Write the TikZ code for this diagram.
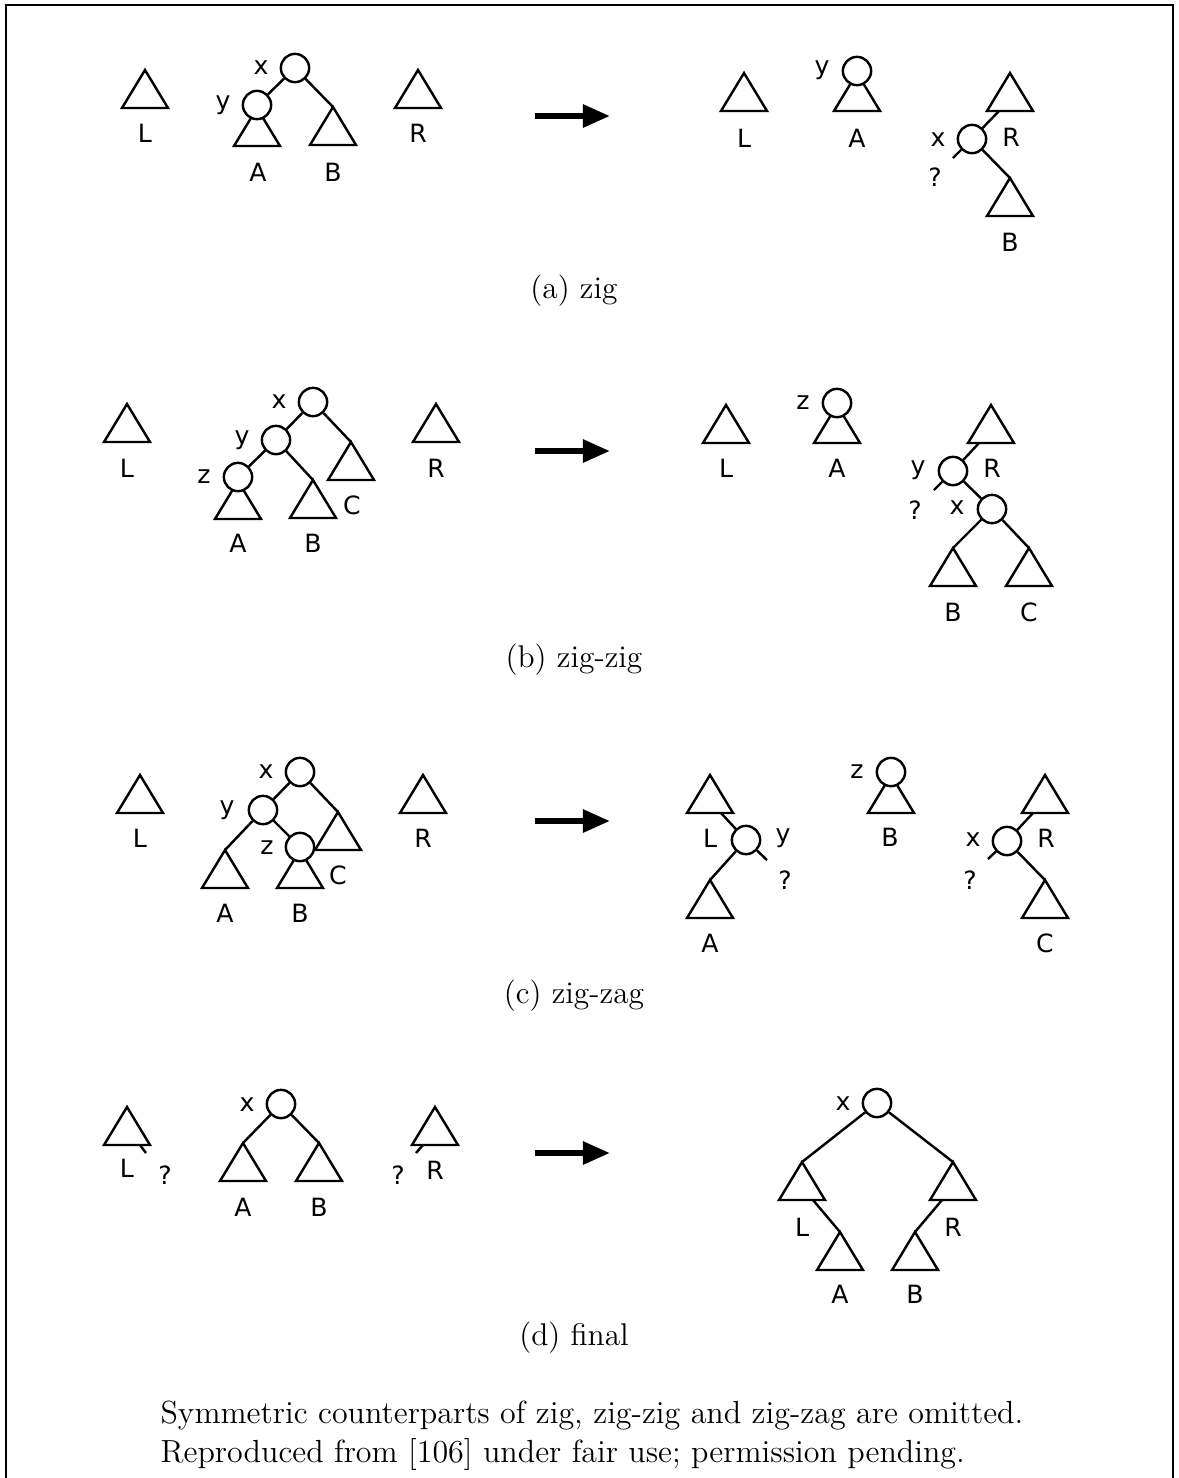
\documentclass[tikz,border=0pt]{standalone}
\usepackage{fontspec}
\newfontfamily\labfont{DejaVu Sans}
\usetikzlibrary{arrows.meta}
\newcommand\mktri[2]{\coordinate (#1) at (#2); \pic at (#1) {tri};}
\begin{document}
\begin{tikzpicture}[x=0.35pt,y=-0.35pt,
  tri/.pic={\draw[line width=0.85pt,line join=miter] (0,0) -- (-23,38) -- (23,38) -- cycle;},
  circ/.style={circle,draw,line width=0.85pt,fill=white,minimum size=9.9pt,inner sep=0pt},
  edge/.style={line width=0.85pt},
  lab/.style={font=\fontsize{8.8}{10}\labfont,inner sep=0pt},
  capt/.style={font=\fontsize{11}{13}\selectfont,anchor=base,inner sep=0pt},
  note/.style={font=\fontsize{11.2}{13}\selectfont,anchor=base west,inner sep=0pt},
  bigarrow/.style={line width=2.1pt,-{Triangle[length=9.5pt,width=7.7pt]}},
  frame/.style={line width=0.7pt}]
\useasboundingbox (0,0) rectangle (1178,1478);
\draw[frame] (6,1480) -- (6,5) -- (1173,5) -- (1173,1480);

% ---------------- (a) zig ----------------
\mktri{La}{145,70}
\mktri{Aa}{257,108}
\mktri{Ba}{333,107}
\mktri{Ra}{418,70}
\node[circ] (xa) at (295,68) {};
\node[circ] (ya) at (257,105) {};
\draw[edge] (xa) -- (ya);
\draw[edge] (xa) -- (Ba);
\node[lab] (lLa) at (145,133) {L};
\node[lab] (lxa) at (261,68) {x};
\node[lab] (lya) at (223,105) {y};
\node[lab] (lAa) at (258,172) {A};
\node[lab] (lBa) at (333,172) {B};
\node[lab] (lRa) at (418,133) {R};
\coordinate (ar1s) at (535,116); \coordinate (ar1e) at (610,116);
\draw[bigarrow] (ar1s) -- (ar1e);

\mktri{La2}{744,73}
\mktri{Aa2}{857,73}
\mktri{Ra2}{1010,73}
\mktri{Ba2}{1010,178}
\node[circ] (ya2) at (857,71) {};
\node[circ] (xa2) at (972,139) {};
\coordinate (ra2p) at (999,111);
\coordinate (qa2) at (953,158);
\draw[edge] (xa2) -- (ra2p);
\draw[edge] (xa2) -- (qa2);
\draw[edge] (xa2) -- (Ba2);
\node[lab] (lLa2) at (744,138) {L};
\node[lab] (lya2) at (822,70) {y};
\node[lab] (lAa2) at (857,138) {A};
\node[lab] (lRa2) at (1011,137) {R};
\node[lab] (lxa2) at (938,140) {x};
\node[lab] (lqa2) at (935,177) {?};
\node[lab] (lBa2) at (1010,242) {B};
\node[capt] (capa) at (574,298) {(a) zig};

% ---------------- (b) zig-zig ----------------
\mktri{Lb}{127,404}
\mktri{Ab}{238,481}
\mktri{Bb}{313,480}
\mktri{Cb}{351,442}
\mktri{Rb}{436,404}
\node[circ] (xb) at (313,402) {};
\node[circ] (yb) at (276,440) {};
\node[circ] (zb) at (238,477) {};
\draw[edge] (xb) -- (yb);
\draw[edge] (yb) -- (zb);
\draw[edge] (yb) -- (Bb);
\draw[edge] (xb) -- (Cb);
\node[lab] (lLb) at (127,468) {L};
\node[lab] (lxb) at (279,402) {x};
\node[lab] (lyb) at (242,440) {y};
\node[lab] (lzb) at (204,477) {z};
\node[lab] (lAb) at (238,543) {A};
\node[lab] (lBb) at (313,543) {B};
\node[lab] (lCb) at (352,505) {C};
\node[lab] (lRb) at (436,468) {R};
\coordinate (ar2s) at (535,451); \coordinate (ar2e) at (610,451);
\draw[bigarrow] (ar2s) -- (ar2e);

\mktri{Lb2}{726,405}
\mktri{Ab2}{837,405}
\mktri{Rb2}{991,405}
\mktri{Bb2}{953,548}
\mktri{Cb2}{1029,548}
\node[circ] (zb2) at (837,403) {};
\node[circ] (yb2) at (953,471) {};
\node[circ] (xb2) at (992,509) {};
\coordinate (rb2p) at (979,443);
\coordinate (qb2) at (934,490);
\draw[edge] (yb2) -- (rb2p);
\draw[edge] (yb2) -- (qb2);
\draw[edge] (yb2) -- (xb2);
\draw[edge] (xb2) -- (Bb2);
\draw[edge] (xb2) -- (Cb2);
\node[lab] (lLb2) at (726,468) {L};
\node[lab] (lzb2) at (803,403) {z};
\node[lab] (lAb2) at (837,468) {A};
\node[lab] (lRb2) at (992,468) {R};
\node[lab] (lyb2) at (918,470) {y};
\node[lab] (lqb2) at (915,510) {?};
\node[lab] (lxb2) at (957,508) {x};
\node[lab] (lBb2) at (953,612) {B};
\node[lab] (lCb2) at (1029,612) {C};
\node[capt] (capb) at (574,667) {(b) zig-zig};

% ---------------- (c) zig-zag ----------------
\mktri{Lc}{140,775}
\mktri{Ac}{225,850}
\mktri{Bc}{300,850}
\mktri{Cc}{338,812}
\mktri{Rc}{423,775}
\node[circ] (xc) at (300,772) {};
\node[circ] (yc) at (263,810) {};
\node[circ] (zc) at (300,847) {};
\draw[edge] (xc) -- (yc);
\draw[edge] (yc) -- (Ac);
\draw[edge] (yc) -- (zc);
\draw[edge] (xc) -- (Cc);
\node[lab] (lLc) at (140,838) {L};
\node[lab] (lxc) at (266,772) {x};
\node[lab] (lyc) at (227,810) {y};
\node[lab] (lzc) at (267,848) {z};
\node[lab] (lAc) at (225,913) {A};
\node[lab] (lBc) at (300,913) {B};
\node[lab] (lCc) at (338,875) {C};
\node[lab] (lRc) at (423,838) {R};
\coordinate (ar3s) at (535,821); \coordinate (ar3e) at (610,821);
\draw[bigarrow] (ar3s) -- (ar3e);

\mktri{Lc2}{710,775}
\mktri{Ac2}{710,880}
\mktri{Bc2}{891,775}
\mktri{Rc2}{1045,775}
\mktri{Cc2}{1045,880}
\node[circ] (yc2) at (746,840) {};
\node[circ] (zc2) at (891,772) {};
\node[circ] (xc2) at (1007,841) {};
\coordinate (lc2p) at (721,813);
\coordinate (qc2) at (767,860);
\coordinate (rc2p) at (1033,813);
\coordinate (qc3) at (988,859);
\draw[edge] (yc2) -- (lc2p);
\draw[edge] (yc2) -- (qc2);
\draw[edge] (yc2) -- (Ac2);
\draw[edge] (xc2) -- (rc2p);
\draw[edge] (xc2) -- (qc3);
\draw[edge] (xc2) -- (Cc2);
\node[lab] (lLc2) at (710,838) {L};
\node[lab] (lyc2) at (783,838) {y};
\node[lab] (lqc2) at (785,880) {?};
\node[lab] (lAc2) at (710,943) {A};
\node[lab] (lzc2) at (857,772) {z};
\node[lab] (lBc2) at (890,837) {B};
\node[lab] (lRc2) at (1046,838) {R};
\node[lab] (lxc2) at (973,840) {x};
\node[lab] (lqc3) at (970,880) {?};
\node[lab] (lCc2) at (1045,943) {C};
\node[capt] (capc) at (574,1003) {(c) zig-zag};

% ---------------- (d) final ----------------
\mktri{Ld}{127,1107}
\mktri{Ad}{243,1143}
\mktri{Bd}{319,1143}
\mktri{Rd}{435,1107}
\node[circ] (xd) at (281,1104) {};
\coordinate (ldp) at (140,1145); \coordinate (qd1) at (146,1153);
\coordinate (rdp) at (423,1145); \coordinate (qd2) at (416,1153);
\draw[edge] (ldp) -- (qd1);
\draw[edge] (rdp) -- (qd2);
\draw[edge] (xd) -- (Ad);
\draw[edge] (xd) -- (Bd);
\node[lab] (lLd) at (127,1168) {L};
\node[lab] (lqd1) at (165,1175) {?};
\node[lab] (lxd) at (247,1105) {x};
\node[lab] (lAd) at (243,1207) {A};
\node[lab] (lBd) at (319,1207) {B};
\node[lab] (lRd) at (435,1170) {R};
\node[lab] (lqd2) at (398,1175) {?};
\coordinate (ar4s) at (535,1153); \coordinate (ar4e) at (610,1153);
\draw[bigarrow] (ar4s) -- (ar4e);

\mktri{Ld2}{802,1162}
\mktri{Rd2}{953,1162}
\mktri{Ad2}{840,1232}
\mktri{Bd2}{915,1232}
\node[circ] (xd2) at (877,1103) {};
\coordinate (ld2p) at (813,1200);
\coordinate (rd2p) at (942,1200);
\draw[edge] (xd2) -- (Ld2);
\draw[edge] (xd2) -- (Rd2);
\draw[edge] (ld2p) -- (Ad2);
\draw[edge] (rd2p) -- (Bd2);
\node[lab] (lxd2) at (843,1104) {x};
\node[lab] (lLd2) at (802,1227) {L};
\node[lab] (lRd2) at (953,1227) {R};
\node[lab] (lAd2) at (840,1294) {A};
\node[lab] (lBd2) at (915,1294) {B};
\node[capt] (capd) at (574,1345) {(d) final};

% ---------------- note ----------------
\node[note] (note1) at (160,1423) {Symmetric counterparts of zig, zig-zig and zig-zag are omitted.};
\node[note] (note2) at (160,1462) {Reproduced from [106] under fair use; permission pending.};
\end{tikzpicture}
\end{document}
